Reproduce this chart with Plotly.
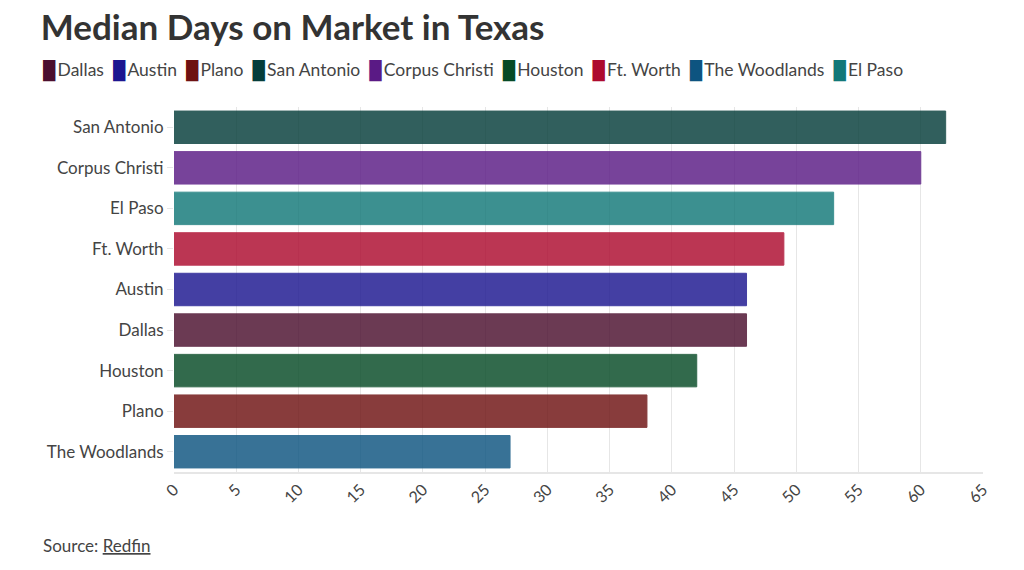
import plotly.graph_objects as go

# Dati
citta = ["Dallas", "Austin", "Plano", "San Antonio", "Corpus Christi",
         "Houston", "Ft. Worth", "The Woodlands", "El Paso"]
giorni = [46, 46, 38, 62, 60, 42, 49, 27, 53]
colori = ["#4b0f2e", "#1c1690", "#6e1212", "#053d3a", "#5a1a85",
          "#064a26", "#ad0a2e", "#0d5480", "#127878"]
ordine_y = ["The Woodlands", "Plano", "Houston", "Dallas", "Austin",
            "Ft. Worth", "El Paso", "Corpus Christi", "San Antonio"]
x_ticks = list(range(0, 70, 5))

font_base = "Lato"

fig = go.Figure()

for nome, valore, colore in zip(citta, giorni, colori):
    fig.add_trace(go.Bar(
        x=[valore],
        y=[nome],
        name=nome,
        orientation="h",
        marker=dict(color=colore, opacity=0.82, line=dict(color=colore, width=1)),
        width=0.8,
        hoverinfo="x+y",
    ))

# Legenda su una riga sola (quella di plotly va a capo)
legenda = "\u00a0\u00a0".join(
    f"<span style='color:{c}'>█</span>\u2009{n}" for n, c in zip(citta, colori)
)

fig.update_layout(
    width=1024,
    height=570,
    paper_bgcolor="white",
    plot_bgcolor="white",
    margin=dict(l=166, r=49, t=99, b=106, autoexpand=False),
    barmode="overlay",
    showlegend=False,
    font=dict(family=font_base, color="#444444", size=16),
    title=dict(
        text="<b>Median Days on Market in Texas</b>",
        x=0.032, xanchor="left", y=0.965, yanchor="middle",
        pad=dict(l=0, r=0, t=0, b=0),
        font=dict(family=font_base, size=35, color="#333333"),
    ),
    xaxis=dict(
        range=[0, 65], tickvals=x_ticks, tickangle=-45,
        showgrid=True, gridcolor="#e6e6e6", zeroline=False,
        showline=True, linecolor="#e6e6e6", linewidth=2,
        ticks="", tickfont=dict(size=16, color="#444444"),
    ),
    yaxis=dict(
        categoryorder="array", categoryarray=ordine_y,
        showgrid=False, ticks="outside", ticklen=6, tickcolor="#e6e6e6",
        tickfont=dict(size=17, color="#444444"),
    ),
    annotations=[
        dict(
            text=legenda, xref="paper", yref="paper",
            x=-0.1644, xanchor="left", y=1.099, yanchor="middle",
            showarrow=False, font=dict(size=17.5, color="#444444"),
        ),
        dict(
            text="Source: <span style='text-decoration:underline'>Redfin</span>",
            xref="paper", yref="paper",
            x=-0.1644, xanchor="left", y=-0.2, yanchor="middle",
            showarrow=False, font=dict(size=17, color="#444444"),
        ),
    ],
)

fig.write_html("out.html")
